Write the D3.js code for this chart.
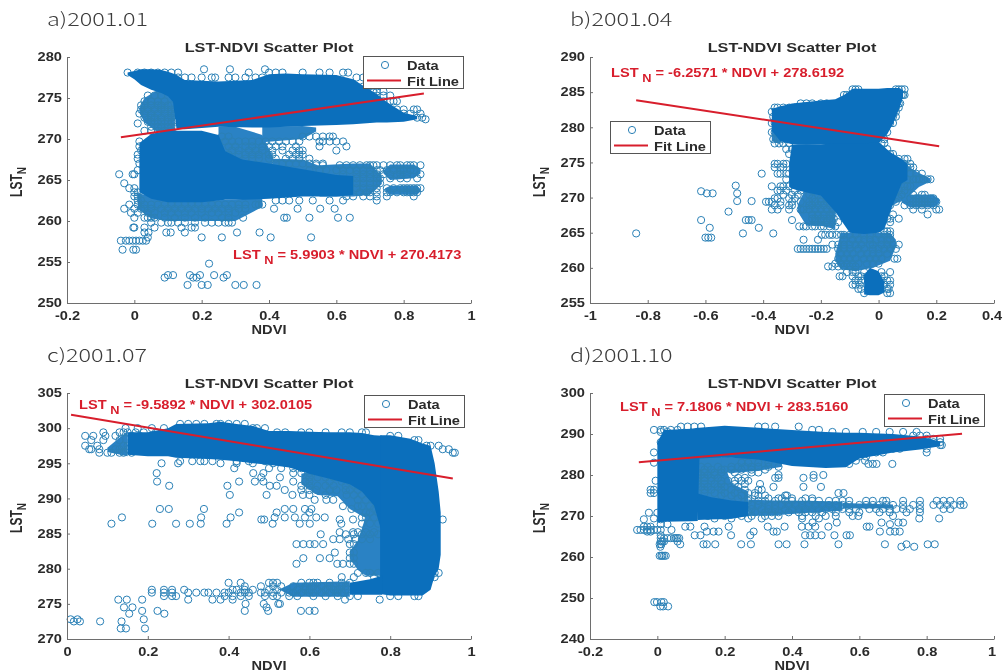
<!DOCTYPE html>
<html>
<head>
<meta charset="utf-8">
<script src="https://cdn.jsdelivr.net/npm/d3@7"></script>
<style>
  html, body { margin: 0; padding: 0; background: #fff; overflow: hidden; }
</style>
</head>
<body>
<script>
const width = 1003;
const height = 672;

const panelLabels = ["a)2001.01", "b)2001.04", "c)2001.07", "d)2001.10"];
const titleText = "LST-NDVI Scatter Plot";
const equations = [
  "= 5.9903 * NDVI + 270.4173",
  "= -6.2571 * NDVI + 278.6192",
  "= -9.5892 * NDVI + 302.0105",
  "= 7.1806 * NDVI + 283.5160",
];

const xDomains = [[-0.2, 1], [-1, 0.4], [0, 1], [-0.2, 1]];
const yDomains = [[250, 280], [255, 290], [270, 305], [240, 300]];
const xTicks = [
  [-0.2, 0, 0.2, 0.4, 0.6, 0.8, 1],
  [-1, -0.8, -0.6, -0.4, -0.2, 0, 0.2, 0.4],
  [0, 0.2, 0.4, 0.6, 0.8, 1],
  [-0.2, 0, 0.2, 0.4, 0.6, 0.8, 1],
];
const yTicks = [
  [250, 255, 260, 265, 270, 275, 280],
  [255, 260, 265, 270, 275, 280, 285, 290],
  [270, 275, 280, 285, 290, 295, 300, 305],
  [240, 250, 260, 270, 280, 290, 300],
];

// fit line end points [ndvi, lst]
const fitA = [[-0.04, 270.2], [0.86, 275.55]];
const fitB = [[-0.84, 283.85], [0.21, 277.3]];
const fitC = [[0.01, 301.9], [0.955, 292.85]];
const fitD = [[-0.055, 283.1], [0.905, 290.05]];

// parts of the clouds where the circles merge, [ndvi, low lst, high lst]
const solidA = [
  [[-0.02, 277.8, 278.1], [0, 277.3, 278.3], [0.02, 276.6, 278.5], [0.05, 276, 278.5], [0.08, 275.6, 278.4], [0.1, 275.2, 278.2], [0.115, 274.5, 278], [0.125, 271.3, 277.8], [0.15, 271.2, 277.2], [0.25, 271.5, 277], [0.35, 271.4, 277.2], [0.4, 271.4, 277.9], [0.45, 271.5, 278], [0.5, 271.6, 277.9], [0.6, 271.7, 277.8], [0.65, 271.8, 277.3], [0.68, 271.9, 276.5], [0.72, 272, 275.5], [0.75, 272, 274.5], [0.8, 272.1, 273.2], [0.84, 272.4, 272.8]],
  [[0.015, 263.5, 269.5], [0.05, 262.7, 270.6], [0.1, 262.3, 271], [0.2, 262.3, 271], [0.25, 262.5, 270.5], [0.27, 262.6, 268.5], [0.32, 262.6, 267.5], [0.4, 262.7, 267], [0.5, 263, 266.3], [0.6, 263, 265.6], [0.65, 263.2, 265.5]],
];
const solidB = [
  [[-0.37, 279.5, 282.6], [-0.34, 278, 283], [-0.3, 277.6, 283.4], [-0.25, 277.5, 283.6], [-0.2, 277.6, 283.8], [-0.15, 277.6, 284], [-0.12, 277.6, 284.6], [-0.09, 277.6, 285.5], [-0.05, 277.5, 285.5], [0, 277.7, 285.5], [0.03, 279, 285.6], [0.05, 280.5, 285.6], [0.07, 282.5, 285.6], [0.085, 284.3, 285.3]],
  [[-0.31, 271.5, 274.9], [-0.3, 271.3, 277.5], [-0.28, 271, 277.6], [-0.2, 270.3, 277.6], [-0.15, 268, 277.7], [-0.1, 265, 277.7], [-0.05, 264.8, 277.7], [0, 265, 277.9], [0.02, 265.5, 277.2], [0.04, 268, 276.5], [0.06, 270, 276], [0.08, 272, 275.5], [0.1, 272.5, 274.8]],
  [[-0.05, 256.2, 259], [-0.03, 256.1, 260], [0, 256.1, 259.5], [0.02, 256.5, 258]],
];
const solidC = [
  [[0.15, 296.2, 299.4], [0.2, 296, 299.4], [0.25, 296, 300], [0.27, 295.8, 300.6], [0.35, 295.6, 300.7], [0.38, 295.5, 300.9], [0.42, 295.3, 300.6], [0.46, 295, 300.3], [0.5, 294.8, 299.6], [0.55, 294.4, 299.6], [0.6, 293.5, 299.5], [0.65, 292.8, 299.4], [0.7, 292, 299.4], [0.73, 291, 299.3], [0.76, 289, 299], [0.78, 285, 298.9]],
  [[0.775, 276.4, 299], [0.8, 276.2, 299], [0.85, 276.2, 298.5], [0.88, 276.2, 297.8], [0.9, 277, 297.5], [0.91, 279, 295], [0.92, 280, 291], [0.925, 282, 288]],
  [[0.7, 276.3, 278], [0.75, 276.3, 278.5], [0.78, 276.3, 279]],
];
const solidD = [
  [[0, 268.5, 288], [0.02, 268.6, 291], [0.1, 268.7, 291.3], [0.12, 268.8, 291.5], [0.125, 284, 291.5], [0.2, 284.3, 292], [0.3, 283.8, 291.5], [0.4, 282.2, 291], [0.5, 281.7, 290.5], [0.56, 281.9, 290.3], [0.6, 284, 290.3], [0.7, 285.5, 290], [0.78, 286.2, 289.4], [0.84, 287, 288.2]],
  [[0.12, 269, 275.5], [0.16, 269.2, 274.6], [0.22, 269.3, 273.8], [0.27, 270, 273.4]],
];

// thinner parts where white still shows between the circles
const looseA = [
  [[0.015, 273.2, 273.8], [0.03, 272, 275], [0.07, 270.8, 276], [0.12, 270.6, 275]],
  [[0.25, 267, 271.5], [0.3, 266.8, 271.5], [0.38, 266.5, 270.5], [0.41, 266.5, 268]],
  [[0.38, 269.6, 271.5], [0.5, 270, 271.6], [0.54, 270.9, 271.4]],
  [[0.41, 266.2, 267.6], [0.5, 266, 267.5], [0.57, 265.6, 266.4]],
  [[0.01, 261.5, 263.4], [0.05, 260.3, 263], [0.1, 260, 262.5], [0.2, 260, 262.5], [0.3, 260, 262.6], [0.38, 261.7, 262.9]],
  [[0.55, 263, 266.8], [0.65, 263, 267], [0.7, 263.2, 267], [0.735, 264.5, 265.5]],
  [[0.74, 265.8, 266.2], [0.76, 265, 266.9], [0.83, 265.2, 266.9], [0.85, 265.8, 266.4]],
  [[0.745, 263.7, 264], [0.76, 263.2, 264.3], [0.84, 263.2, 264.3], [0.85, 263.6, 263.9]],
];
const looseB = [
  [[-0.28, 268, 269], [-0.25, 266, 271.5], [-0.2, 266, 271], [-0.15, 265.5, 269]],
  [[-0.15, 261, 262], [-0.13, 259.8, 265], [-0.08, 259.5, 265], [-0.02, 260, 265], [0.04, 261, 265], [0.06, 263, 264]],
  [[0.03, 268.5, 273], [0.1, 270, 274.5], [0.14, 271.5, 273.5], [0.18, 272.3, 272.7]],
  [[0.08, 269.3, 269.7], [0.11, 268.6, 270.4], [0.19, 268.6, 270.4], [0.21, 269.2, 269.8]],
  [[-0.37, 278, 280], [-0.34, 277.6, 279]],
];
const looseC = [
  [[0.1, 296.6, 297.2], [0.15, 296, 299.6]],
  [[0.58, 292, 293.5], [0.62, 290.5, 294], [0.67, 290.3, 293.2], [0.7, 288.5, 292.5], [0.73, 287.5, 291.5], [0.78, 286, 291]],
  [[0.7, 281.5, 282.5], [0.72, 279.8, 284], [0.74, 279, 287.5], [0.78, 279, 289.5]],
  [[0.53, 276.9, 277.2], [0.56, 276, 278], [0.7, 276, 278.2]],
];
const looseD = [
  [[0.12, 269.2, 284.5], [0.19, 269.2, 284.5], [0.22, 269.4, 278], [0.27, 270, 276]],
  [[0.19, 281, 284.5], [0.22, 280.5, 284.3], [0.3, 281, 284], [0.37, 282, 283]],
  [[0.27, 270, 274], [0.35, 270.2, 273.8], [0.45, 270.8, 273.7], [0.55, 271.3, 273.5]],
  [[0.55, 271.8, 273.2], [0.7, 271.9, 272.8]],
];

// rows of circles that share an lst value, [lst, [ndvi, ...]]
const rowsA = [
  [278.5, [0.207, 0.284, 0.388]],
  [278.1, [-0.02, 0.01, 0.03, 0.05, 0.07, 0.09, 0.11, 0.13, 0.34, 0.4, 0.42, 0.44, 0.5, 0.55, 0.58, 0.62, 0.635]],
  [277.5, [0.13, 0.15, 0.17, 0.2, 0.23, 0.24, 0.28, 0.3, 0.33, 0.36, 0.38, 0.66, 0.68]],
  [276.4, [0.66, 0.68, 0.7, 0.72]],
  [275.8, [0.69, 0.71, 0.72, 0.74]],
  [275.3, [0.04, 0.06, 0.08, 0.72, 0.74, 0.76]],
  [274.6, [0.03, 0.05, 0.07, 0.09, 0.74, 0.76, 0.77, 0.78]],
  [274.1, [0.02, 0.03, 0.05, 0.07, 0.08, 0.1, 0.11]],
  [273.6, [0.02, 0.04, 0.06, 0.08, 0.09, 0.11, 0.12, 0.76, 0.78, 0.8, 0.83, 0.84]],
  [273.1, [0.015, 0.03, 0.05, 0.07, 0.09, 0.11, 0.12, 0.8, 0.82, 0.85]],
  [272.6, [0.03, 0.05, 0.06, 0.08, 0.1, 0.11, 0.84, 0.855]],
  [272.4, [0.865]],
  [272.1, [0.04, 0.05, 0.07, 0.08, 0.1, 0.11, 0.12]],
  [271.9, [0.01]],
  [271.5, [0.05, 0.07, 0.08, 0.1, 0.11, 0.12]],
  [271, [0.03, 0.05, 0.07, 0.09, 0.11]],
  [270.3, [0.26, 0.28, 0.5, 0.52, 0.54, 0.56, 0.58, 0.59]],
  [269.7, [0.27, 0.29, 0.31, 0.33, 0.35, 0.37, 0.39, 0.41, 0.43, 0.45, 0.47, 0.49, 0.55, 0.56, 0.58, 0.6, 0.62, 0.015]],
  [269.1, [0.28, 0.3, 0.33, 0.35, 0.38, 0.4, 0.42, 0.44, 0.48, 0.55, 0.63, 0.015]],
  [268.6, [0.29, 0.31, 0.34, 0.36, 0.38, 0.41, 0.44, 0.47, 0.49, 0.5, 0.6, 0.02]],
  [268.1, [0.28, 0.31, 0.33, 0.35, 0.37, 0.4, 0.41, 0.46, 0.48, 0.49, 0.5, 0.01]],
  [267.6, [0.33, 0.35, 0.37, 0.4, 0.42, 0.45, 0.47, 0.49, 0.52, 0.01]],
  [267, [0.42, 0.44, 0.46, 0.48, 0.5, 0.52, 0.54, 0.56, 0.015]],
  [266.8, [0.54, 0.56, 0.61, 0.63, 0.65, 0.67, 0.69, 0.7, 0.71, 0.72, 0.74, 0.76, 0.78, 0.79, 0.81, 0.82, 0.83, 0.85]],
  [266.2, [0.52, 0.55, 0.57, 0.6, 0.62, 0.64, 0.66, 0.68, 0.7, 0.72, 0.73, 0.75, 0.77, 0.79, 0.8, 0.82, 0.83, 0.01]],
  [265.7, [0.62, 0.66, 0.68, 0.7, 0.72, 0.74, 0.76, 0.78, 0.79, 0.81, 0.85, -0.045, 0, -0.005]],
  [265.2, [0.66, 0.68, 0.7, 0.72, 0.73, 0.76, 0.79, 0.81, 0.84]],
  [264.6, [0.66, 0.68, 0.7, 0.72, 0.73, -0.03]],
  [264, [0.66, 0.68, 0.7, 0.72, 0.75, 0.77, 0.79, 0.8, 0.81, 0.82, 0.83, 0.84, 0.85, -0.015, 0]],
  [263.5, [0.67, 0.69, 0.7, 0.72, 0.75, 0.76, 0.78, 0.8, 0.81, 0.82, 0.83, 0.84, 0, 0.01]],
  [263, [0.63, 0.65, 0.68, 0.7, 0.72, 0.75, 0.83, 0, 0.01]],
  [262.5, [0.01, 0.02, 0.42, 0.44, 0.46, 0.49, 0.53, 0.58, 0.62, 0.72]],
  [262, [0.01, 0.03, 0.05, 0.07, 0.09, 0.11, 0.13, 0.15, 0.17, 0.19, 0.21, 0.23, 0.25, 0.27, 0.29, 0.31, 0.33, 0.36, 0.37, 0.38, -0.015]],
  [261.5, [-0.03, 0, 0.02, 0.03, 0.05, 0.08, 0.1, 0.12, 0.14, 0.16, 0.18, 0.2, 0.22, 0.24, 0.26, 0.28, 0.31, 0.33, 0.415, 0.485, 0.552, 0.595]],
  [261, [-0.01, 0.01, 0.04, 0.06, 0.09, 0.11, 0.13, 0.15, 0.17, 0.2, 0.23, 0.25, 0.28, 0.3]],
  [260.4, [0, 0.03, 0.04, 0.05, 0.06, 0.09, 0.12, 0.15, 0.18, 0.21, 0.26, 0.28, 0.323, 0.445, 0.453, 0.52, 0.605, 0.64]],
  [259.8, [0.05, 0.08, 0.1, 0.11, 0.13, 0.15, 0.18, 0.21, 0.23, 0.25, 0.27, 0.28, 0.29]],
  [259.2, [0, -0.003, 0.03, 0.06, 0.14, 0.17, 0.18]],
  [258.6, [0.03, 0.042, 0.095, 0.108, 0.15, 0.305, 0.372]],
  [258, [0.04, 0.2, 0.26, 0.405, 0.525]],
  [257.6, [-0.04, -0.025, -0.015, -0.005, 0.005, 0.015, 0.025, 0.035]],
  [256.5, [-0.035, -0.003, 0.005]],
  [254.8, [0.222]],
  [253.4, [0.1, 0.115, 0.165, 0.195, 0.237, 0.275]],
  [253.1, [0.09, 0.175, 0.185, 0.265]],
  [252.2, [0.158, 0.2, 0.218, 0.3, 0.325, 0.363]],
];
const rowsB = [
  [285.4, [-0.09, -0.08, -0.07, 0.06, 0.07, 0.08, 0.09]],
  [284.6, [-0.12, -0.11, 0.08, 0.09, 0.085]],
  [283.4, [-0.27, -0.25, -0.23, -0.2, -0.18, 0.07, 0.075]],
  [282.8, [-0.36, -0.35, -0.33, -0.31, -0.29, 0.06, 0.07]],
  [282.2, [-0.37, -0.355, -0.34, 0.06, 0.05]],
  [281.5, [-0.365, -0.35, 0.05, 0.06]],
  [280.6, [-0.37, -0.36, 0.04, 0.05]],
  [279.3, [-0.37, -0.36, -0.345, 0.03]],
  [278.3, [-0.365, -0.35, -0.33, 0.02]],
  [277.7, [-0.36, -0.345, -0.33, -0.31, 0.01, 0.02]],
  [276.9, [-0.32, -0.3, 0.01, 0.03]],
  [276.2, [-0.31, 0.04, 0.05]],
  [275.5, [0.07, 0.09, 0.1]],
  [274.8, [-0.36, -0.35, -0.33, -0.32, 0.09, 0.11]],
  [274.3, [-0.36, -0.34, -0.33, 0.1, 0.11, 0.12]],
  [273.4, [-0.405, -0.35, -0.34, -0.32, -0.31, 0.11, 0.13, 0.15]],
  [272.6, [-0.32, 0.1, 0.12, 0.13, 0.14, 0.155, 0.17, 0.18]],
  [271.6, [-0.37, -0.34, -0.33, -0.31, 0.06, 0.09, 0.1, 0.11]],
  [271, [-0.35, -0.34, -0.32, -0.29, -0.27, -0.23, 0.07, 0.09]],
  [270.4, [-0.33, -0.3, -0.28, -0.24, -0.21, 0.08, 0.12, 0.15, 0.16]],
  [269.9, [-0.36, -0.35, -0.31, -0.29, -0.23, -0.2, -0.18, 0.07, 0.11, 0.13, 0.14, 0.16, 0.18, 0.19]],
  [269.4, [-0.39, -0.38, -0.37, -0.34, -0.3, -0.27, -0.24, -0.22, -0.2, -0.18, 0.06, 0.12, 0.13, 0.14, 0.15, 0.16, 0.17, 0.18, 0.2]],
  [268.9, [-0.36, -0.34, -0.31, -0.3, -0.24, -0.23, -0.21, -0.19, -0.17, 0.04, 0.09, 0.11, 0.13, 0.15, 0.17, 0.19]],
  [268.3, [-0.37, -0.35, -0.31, -0.27, -0.26, -0.24, -0.22, -0.2, -0.18, -0.16, 0.03, 0.12, 0.15, 0.2, 0.21]],
  [267.6, [-0.23, -0.21, -0.19, -0.17, -0.16, 0.02, 0.05, 0.17]],
  [267, [-0.23, -0.22, -0.2, -0.19, -0.17, -0.155, 0.03, 0.04, 0.07]],
  [266.5, [-0.22, -0.2, -0.18, -0.16, -0.14, 0.04]],
  [265.9, [-0.275, -0.26, -0.25, -0.23, -0.22, -0.2, -0.19, -0.17, -0.15]],
  [265.2, [0.03, 0.04, 0.02]],
  [264.7, [-0.197, -0.185, -0.17, -0.16, -0.145, -0.13, -0.12, -0.1, -0.08, -0.05, -0.03, 0, 0.02, 0.04]],
  [264, [-0.26, -0.21, -0.12, -0.09, -0.07, -0.05, -0.03, -0.01, 0.01, 0.03, 0.04]],
  [263.3, [-0.16, -0.14, -0.12, -0.1, -0.08, -0.06, -0.03, -0.02, 0.01, 0.03, 0.05, 0.07]],
  [262.7, [-0.28, -0.27, -0.26, -0.25, -0.24, -0.23, -0.22, -0.21, -0.2, -0.19, -0.18, -0.14, -0.12, -0.1, -0.07, -0.05, -0.02, 0, 0.02, 0.04, 0.06]],
  [262, [-0.13, -0.11, -0.09, -0.06, -0.04, -0.02, 0, 0.03]],
  [261.3, [-0.14, -0.12, -0.1, -0.08, -0.05, -0.03, -0.01, 0.01, 0.055, 0.065]],
  [260.6, [-0.15, -0.13, -0.11, -0.09, -0.07, -0.04, -0.02, 0]],
  [260.2, [-0.175, -0.16, -0.14, -0.12, -0.1, -0.08]],
  [259.4, [-0.11, -0.09, -0.08, -0.05, 0.01, 0.04]],
  [258.8, [-0.135, -0.125, -0.09, -0.07, -0.06, -0.04, 0.01, 0.02]],
  [258.2, [-0.08, -0.07, -0.06, 0.01, 0.03, 0.04]],
  [257.6, [-0.09, -0.08, -0.065, 0.02, 0.04]],
  [257, [-0.07, -0.06, 0.03, 0.035]],
  [256.4, [-0.05, 0.03, 0.04]],
  [270.9, [-0.615]],
  [270.6, [-0.595, -0.575, -0.49]],
  [271.7, [-0.495]],
  [269.5, [-0.49, -0.44]],
  [268, [-0.52]],
  [266.8, [-0.615, -0.46, -0.45, -0.44, -0.3]],
  [265.7, [-0.585, -0.415]],
  [264.9, [-0.84, -0.47, -0.365]],
  [264.3, [-0.6, -0.59, -0.58]],
];
const rowsC = [
  [300.6, [0.28, 0.3, 0.32, 0.34, 0.37, 0.38, 0.4, 0.42, 0.44]],
  [300, [0.145, 0.175, 0.21, 0.24, 0.46, 0.47, 0.49]],
  [299.4, [0.09, 0.13, 0.14, 0.15, 0.17, 0.19, 0.22, 0.52, 0.54, 0.58, 0.6, 0.64, 0.68, 0.7, 0.73, 0.74]],
  [298.9, [0.045, 0.065, 0.095, 0.12, 0.16, 0.18, 0.8, 0.82]],
  [298.3, [0.06, 0.09, 0.13, 0.16, 0.18, 0.86, 0.87]],
  [297.5, [0.045, 0.075, 0.14, 0.15, 0.17, 0.89, 0.9, 0.92]],
  [297, [0.055, 0.06, 0.08, 0.12, 0.13, 0.15, 0.93, 0.945]],
  [296.5, [0.08, 0.1, 0.11, 0.13, 0.14, 0.16, 0.955, 0.96]],
  [295.3, [0.28, 0.31, 0.33, 0.34, 0.36, 0.42, 0.45, 0.49, 0.52]],
  [295, [0.234, 0.275, 0.38, 0.42, 0.46, 0.51]],
  [294.3, [0.414, 0.5, 0.53, 0.56, 0.58, 0.6, 0.62]],
  [293.6, [0.222, 0.461, 0.486, 0.56, 0.58, 0.6, 0.63, 0.66]],
  [293, [0.481, 0.527, 0.6, 0.62, 0.64, 0.66, 0.7, 0.72]],
  [292.4, [0.223, 0.426, 0.465, 0.486, 0.56, 0.59, 0.6, 0.65, 0.68, 0.7, 0.71]],
  [291.8, [0.253, 0.397, 0.502, 0.519, 0.58, 0.6, 0.62, 0.64, 0.66, 0.69, 0.71, 0.72]],
  [291.2, [0.539, 0.58, 0.6, 0.617, 0.65, 0.667, 0.69, 0.7, 0.72, 0.74]],
  [290.5, [0.403, 0.494, 0.558, 0.584, 0.6, 0.64, 0.692, 0.71, 0.73, 0.75]],
  [289.8, [0.613, 0.642, 0.659, 0.72, 0.74, 0.76]],
  [288.9, [0.683, 0.72, 0.73, 0.75, 0.77]],
  [288.5, [0.23, 0.252, 0.339, 0.539, 0.56, 0.589, 0.605, 0.704, 0.76]],
  [288, [0.426, 0.519, 0.6, 0.74, 0.75, 0.77]],
  [287.3, [0.136, 0.332, 0.405, 0.514, 0.539, 0.564, 0.589, 0.617, 0.638, 0.73, 0.74, 0.76]],
  [287, [0.481, 0.488, 0.675, 0.708, 0.93]],
  [286.4, [0.11, 0.211, 0.27, 0.304, 0.331, 0.395, 0.509, 0.576, 0.601, 0.679, 0.73, 0.75, 0.77]],
  [285.2, [0.675, 0.708, 0.72, 0.74, 0.76]],
  [284.9, [0.628, 0.69, 0.71, 0.73, 0.75, 0.77]],
  [284.2, [0.659, 0.675, 0.696, 0.715, 0.73, 0.75]],
  [283.5, [0.568, 0.601, 0.613, 0.634, 0.585, 0.7, 0.71]],
  [282.3, [0.663, 0.7, 0.71]],
  [281.5, [0.585, 0.626, 0.65, 0.7, 0.71]],
  [280.7, [0.568, 0.669, 0.683, 0.7, 0.71]],
  [279.4, [0.72, 0.74, 0.75, 0.77, 0.92, 0.91]],
  [278.8, [0.68, 0.71, 0.76, 0.9, 0.91]],
  [278, [0.4, 0.43, 0.5, 0.51, 0.52, 0.58, 0.6, 0.61, 0.62, 0.65, 0.68, 0.7, 0.89]],
  [277.5, [0.44, 0.48, 0.51, 0.53, 0.56, 0.59, 0.61, 0.63, 0.65, 0.66, 0.68, 0.69]],
  [277, [0.21, 0.24, 0.26, 0.29, 0.41, 0.42, 0.44, 0.46, 0.5, 0.52, 0.57, 0.59, 0.6, 0.62, 0.64, 0.66, 0.67, 0.69]],
  [276.6, [0.21, 0.24, 0.26, 0.3, 0.32, 0.34, 0.35, 0.37, 0.39, 0.4, 0.43, 0.44, 0.45, 0.48, 0.49, 0.51, 0.53, 0.55, 0.56, 0.58, 0.6, 0.61, 0.63, 0.65, 0.67, 0.68]],
  [276.1, [0.24, 0.26, 0.27, 0.39, 0.41, 0.43, 0.45, 0.49, 0.51, 0.52, 0.55, 0.57, 0.61, 0.64, 0.67, 0.7, 0.72, 0.8, 0.82, 0.86, 0.87]],
  [275.6, [0.127, 0.148, 0.186, 0.3, 0.36, 0.38, 0.41, 0.688, 0.774]],
  [275, [0.442, 0.487, 0.523, 0.527]],
  [274.5, [0.141, 0.162, 0.494]],
  [274, [0.44, 0.498, 0.579, 0.6, 0.613, 0.224, 0.186]],
  [273.6, [0.154, 0.241]],
  [272.8, [0.009, 0.026, 0.19]],
  [272.5, [0.017, 0.032, 0.082, 0.135]],
  [271.5, [0.133, 0.146, 0.193]],
];
const rowsD = [
  [291.8, [0.07, 0.09, 0.11, 0.13, 0.3, 0.32, 0.35, 0.42]],
  [291, [-0.01, 0.01, 0.02, 0.04, 0.06, 0.46, 0.48]],
  [290.5, [0.01, 0.03, 0.52, 0.56, 0.61, 0.65, 0.69, 0.73, 0.77]],
  [289.6, [0.76, 0.78, 0.8]],
  [288.8, [0.8, 0.82, 0.84]],
  [288, [0.01, 0.82, 0.84]],
  [287.3, [0.84, 0.845]],
  [286.4, [0.7, 0.72, 0.8]],
  [285.5, [-0.01, 0.65, 0.67, 0.8]],
  [284.5, [0.6, 0.62]],
  [283.5, [0.617, 0.59]],
  [282.7, [0.627, 0.64, 0.651, 0.698, 0.57]],
  [283, [-0.01, 0.25, 0.27, 0.3, 0.33]],
  [282, [0.13, 0.15, 0.18, 0.22, 0.24, 0.26, 0.28, 0.3, 0.33, 0.36]],
  [281.3, [0.14, 0.16, 0.19, 0.2, 0.22, 0.25, 0.28, 0.32]],
  [280.6, [0.12, 0.14, 0.17, 0.19, 0.23, 0.28, 0.3]],
  [280, [0.13, 0.15, 0.17, 0.36, 0.464, 0.493]],
  [279.3, [0.12, 0.14, 0.16, 0.18, 0.24, 0.26, 0.35, 0.36, 0.434, 0.464]],
  [278.6, [-0.005, 0.12, 0.14, 0.16, 0.19, 0.21, 0.23, 0.25, 0.27]],
  [277.8, [0.12, 0.14, 0.17, 0.19, 0.23, 0.26, 0.305]],
  [277.1, [0.13, 0.15, 0.18, 0.2, 0.24, 0.345, 0.434, 0.486]],
  [276.4, [-0.02, -0.01, 0.14, 0.16, 0.19, 0.22, 0.26, 0.3, 0.31]],
  [275.6, [-0.02, -0.01, 0.14, 0.17, 0.2, 0.23, 0.27, 0.29, 0.538, 0.553]],
  [275, [0.19, 0.22, 0.25, 0.29, 0.3, 0.32, 0.38, 0.385]],
  [274.3, [0.24, 0.27, 0.33, 0.36, 0.37, 0.4, 0.44, 0.46]],
  [273.7, [0.27, 0.3, 0.32, 0.35, 0.38, 0.4, 0.43, 0.46, 0.48, 0.51, 0.53, 0.55, 0.57, 0.62, 0.64, 0.67, 0.68, 0.73, 0.78, 0.83, 0.85, 0.87, 0.9]],
  [272.7, [0.28, 0.3, 0.33, 0.35, 0.37, 0.39, 0.41, 0.43, 0.45, 0.47, 0.49, 0.51, 0.53, 0.55, 0.57, 0.6, 0.62, 0.64, 0.66, 0.68, 0.7, 0.73, 0.76, 0.78, 0.82, 0.84, 0.86, 0.88, 0.9, 0.91]],
  [271.7, [0.28, 0.31, 0.33, 0.35, 0.38, 0.4, 0.42, 0.44, 0.46, 0.48, 0.5, 0.52, 0.55, 0.57, 0.59, 0.63, 0.65, 0.67, 0.69, 0.71, 0.73, 0.75, 0.78, 0.85, 0.87]],
  [270.9, [0.27, 0.29, 0.32, 0.34, 0.36, 0.39, 0.42, 0.44, 0.46, 0.49, 0.53, 0.57, 0.6, 0.66, 0.69, 0.74, 0.78]],
  [270, [0.05, 0.1, 0.15, 0.2, 0.25, 0.28, 0.32, 0.34, 0.36, 0.43, 0.47, 0.5, 0.53, 0.58, 0.597, 0.7]],
  [269.4, [-0.01, 0.17, 0.22, 0.27, 0.31, 0.43, 0.48, 0.778, 0.837]],
  [268.4, [0.666, 0.716, 0.73, 0.461, 0.533]],
  [268, [0.691, 0.01, 0.03]],
  [270.8, [-0.025, 0]],
  [269.2, [-0.04, 0.01]],
  [267.4, [-0.04, -0.03, -0.02, 0.083, 0.098, 0.14, 0.212, 0.328, 0.378, 0.429, 0.449, 0.469, 0.508, 0.622, 0.63]],
  [266.6, [-0.06, -0.05, -0.04, -0.03, -0.02, -0.01, 0, 0.01, 0.042]],
  [266.2, [-0.03, -0.02, 0.147, 0.167, 0.182, 0.286, 0.345, 0.355, 0.661, 0.691, 0.706, 0.72]],
  [265.3, [0.111, 0.128, 0.219, 0.276, 0.439, 0.454, 0.469, 0.488, 0.526, 0.562, 0.572, 0.01]],
  [264.6, [0.01, 0.02, 0.03, 0.04, 0.05, 0.055, 0.06, 0.065]],
  [263.8, [0.01, 0.015, 0.02, 0.06]],
  [263.1, [0.007, 0.012, 0.068, 0.137, 0.147, 0.172, 0.249, 0.278, 0.36, 0.384, 0.437, 0.538, 0.676, 0.74, 0.803, 0.824]],
  [262.5, [0.009, 0.725, 0.763]],
  [260.3, [0.007, 0.012, 0.015, 0.02, 0.025]],
  [249, [-0.009, -0.001, 0.012, 0.019]],
  [247.95, [0.009, 0.017, 0.032]],
];

const plotW = 404;
const plotH = 246;
const plotLefts = [67, 590, 67, 590];
const plotTops = [57, 57, 393, 393];
const labelPos = [[47, 26], [570, 26], [47, 362], [570, 362]];
const eqPos = [[233, 259], [611, 77], [79, 409], [620, 411]];
const legendPos = [[363, 56], [610, 121], [364, 395], [884, 394]];

const solids = [solidA, solidB, solidC, solidD];
const looses = [looseA, looseB, looseC, looseD];
const rows = [rowsA, rowsB, rowsC, rowsD];
const fits = [fitA, fitB, fitC, fitD];

const dotColor = "#2a80b6";
const solidColor = "#0b6fbc";
const looseColor = "#2a82c4";
const red = "#d81e2c";
const inkColor = "#2b2b2b";
const stretch = 1.22;

const svg = d3
  .select("body")
  .append("svg")
  .attr("width", width)
  .attr("height", height)
  .style("display", "block")
  .style("filter", "blur(0.35px)")
  .style("font-family", "'Liberation Sans', Arial, sans-serif")
  .style("font-weight", "bold")
  .style("font-size", "12px");

// text in the reference is wider than it is tall
const wideText = (parent, x, y, k) =>
  parent.append("text").attr("transform", `translate(${x},${y}) scale(${k},1)`).attr("fill", inkColor);

panelLabels.forEach((label, i) => {
  const g = svg.append("g").attr("transform", `translate(${plotLefts[i]},${plotTops[i]})`);
  const x = d3.scaleLinear().domain(xDomains[i]).range([0, plotW]);
  const y = d3.scaleLinear().domain(yDomains[i]).range([plotH, 0]);

  const area = d3
    .area()
    .x((d) => x(d[0]))
    .y0((d) => y(d[1]))
    .y1((d) => y(d[2]));

  g.selectAll(".loose")
    .data(looses[i])
    .enter()
    .append("path")
    .attr("class", "loose")
    .attr("d", area)
    .attr("fill", looseColor);

  const points = rows[i].flatMap(([lst, ndvis]) => ndvis.map((ndvi) => [ndvi, lst]));

  g.selectAll(".dot")
    .data(points)
    .enter()
    .append("circle")
    .attr("class", "dot")
    .attr("cx", (d) => x(d[0]))
    .attr("cy", (d) => y(d[1]))
    .attr("r", 3.6)
    .attr("fill", "none")
    .attr("stroke", dotColor)
    .attr("stroke-width", 1);

  g.selectAll(".solid")
    .data(solids[i])
    .enter()
    .append("path")
    .attr("class", "solid")
    .attr("d", area)
    .attr("fill", solidColor);

  g.append("path")
    .attr("d", d3.line().x((d) => x(d[0])).y((d) => y(d[1]))(fits[i]))
    .attr("fill", "none")
    .attr("stroke", red)
    .attr("stroke-width", 2);

  const xAxis = d3
    .axisBottom(x)
    .tickValues(xTicks[i])
    .tickFormat((d) => String(d))
    .tickSizeInner(-3)
    .tickSizeOuter(0)
    .tickPadding(8);
  const yAxis = d3
    .axisLeft(y)
    .tickValues(yTicks[i])
    .tickFormat((d) => String(d))
    .tickSizeInner(-3)
    .tickSizeOuter(0)
    .tickPadding(5);

  const gx = g.append("g").attr("transform", `translate(0,${plotH})`).call(xAxis);
  const gy = g.append("g").call(yAxis);

  [gx, gy].forEach((axis) => {
    axis.selectAll(".domain, .tick line").attr("stroke", "#6e6e6e");
    axis
      .selectAll("text")
      .attr("fill", inkColor)
      .style("font-family", "'Liberation Sans', Arial, sans-serif")
      .style("font-size", "12px")
      .style("font-weight", "bold")
      .attr("transform", `scale(${stretch},1)`);
  });
  gy.selectAll("text").attr("x", -5 / stretch);
  // keep the last label of the right hand panels inside the window
  gx.selectAll("text")
    .filter((d) => plotLefts[i] + x(d) + 11 > width)
    .attr("x", -2);

  wideText(g, plotW / 2, -5, 1.3)
    .attr("text-anchor", "middle")
    .style("font-size", "12.5px")
    .text(titleText);

  wideText(g, plotW / 2, plotH + 31, stretch).attr("text-anchor", "middle").text("NDVI");

  const yLabel = g
    .append("text")
    .attr("transform", `translate(-45,${plotH / 2 + 2}) rotate(-90) scale(1,1.3)`)
    .attr("text-anchor", "middle")
    .attr("fill", inkColor);
  yLabel.append("tspan").text("LST");
  yLabel.append("tspan").attr("dy", 3).style("font-size", "10px").text("N");

  svg
    .append("text")
    .attr("transform", `translate(${labelPos[i][0]},${labelPos[i][1]}) scale(1.3,1)`)
    .attr("fill", "#3c3c3c")
    .style("font-family", "'Noto Sans CJK SC', 'Noto Sans', sans-serif")
    .style("font-weight", "300")
    .style("font-size", "18px")
    .text(label);

  const eq = wideText(svg, eqPos[i][0], eqPos[i][1], stretch).attr("fill", red).style("white-space", "pre");
  eq.append("tspan").text("LST");
  eq.append("tspan").attr("dy", 5).style("font-size", "10.5px").text(" N");
  eq.append("tspan").attr("dy", -5).text(" " + equations[i]);

  const legend = svg.append("g").attr("transform", `translate(${legendPos[i][0]},${legendPos[i][1]})`);
  legend
    .append("rect")
    .attr("x", 0.5)
    .attr("y", 0.5)
    .attr("width", 100)
    .attr("height", 32)
    .attr("fill", "#fff")
    .attr("stroke", "#555");
  legend
    .append("circle")
    .attr("cx", 22)
    .attr("cy", 9)
    .attr("r", 3.6)
    .attr("fill", "none")
    .attr("stroke", dotColor)
    .attr("stroke-width", 1);
  legend
    .append("line")
    .attr("x1", 4)
    .attr("x2", 38)
    .attr("y1", 24.5)
    .attr("y2", 24.5)
    .attr("stroke", red)
    .attr("stroke-width", 2);
  wideText(legend, 44, 14, stretch).text("Data");
  wideText(legend, 44, 30, stretch).text("Fit Line");
});
</script>
</body>
</html>
